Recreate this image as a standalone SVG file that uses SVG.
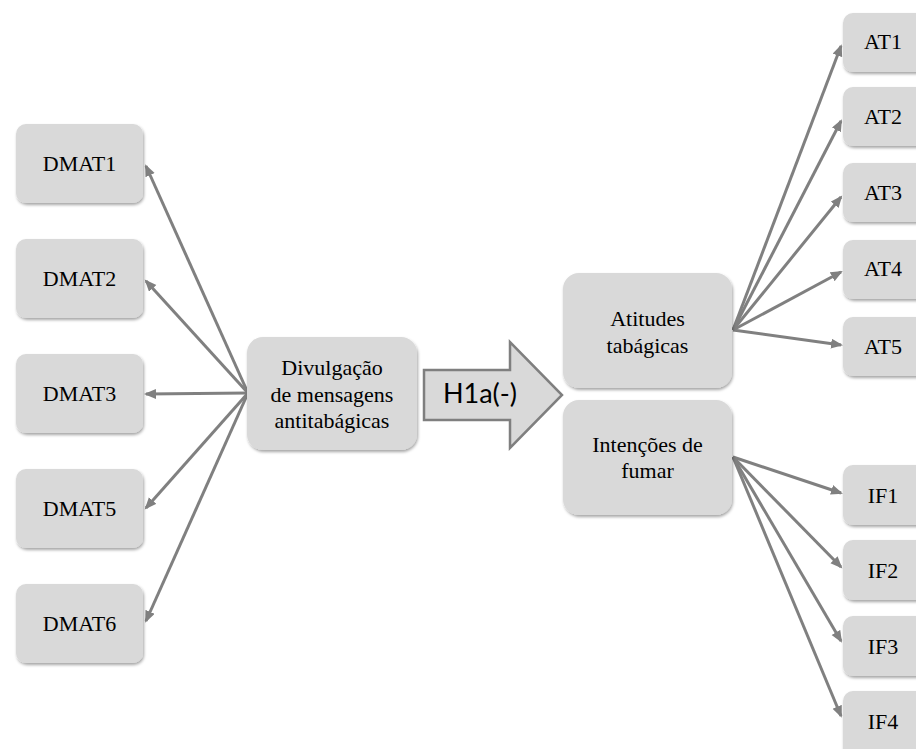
<svg xmlns="http://www.w3.org/2000/svg" width="916" height="749" viewBox="0 0 916 749">
  <defs>
    <filter id="shadow" x="-10%" y="-10%" width="125%" height="130%">
      <feDropShadow dx="1" dy="2" stdDeviation="1.6" flood-color="#000" flood-opacity="0.35"/>
    </filter>
    <marker id="head" markerUnits="userSpaceOnUse" markerWidth="13" markerHeight="11" refX="10" refY="5" orient="auto">
      <path d="M0,0 L12,5 L0,10 Z" fill="#808080"/>
    </marker>
    <style>
      .box { fill: #d9d9d9; filter: url(#shadow); }
      .lbl { font-size: 22px; fill: #000; text-anchor: middle; }
      .link { stroke: #808080; stroke-width: 3; fill: none; marker-end: url(#head); }
    </style>
  </defs>
  <rect width="916" height="749" fill="#fff"/>

  <!-- connectors -->
  <g id="connectors">
    <path class="link" d="M248,393 L146,166"/>
    <path class="link" d="M248,393 L146,281"/>
    <path class="link" d="M248,393 L146,394"/>
    <path class="link" d="M248,393 L146,508"/>
    <path class="link" d="M248,393 L146,621"/>

    <path class="link" d="M733,330 L841,46"/>
    <path class="link" d="M733,330 L841,121"/>
    <path class="link" d="M733,330 L841,197"/>
    <path class="link" d="M733,330 L841,272"/>
    <path class="link" d="M733,330 L841,345"/>

    <path class="link" d="M733,457 L841,493"/>
    <path class="link" d="M733,457 L841,567"/>
    <path class="link" d="M733,457 L841,641"/>
    <path class="link" d="M733,457 L841,716"/>
  </g>

  <!-- hypothesis arrow -->
  <g id="h1a">
    <polygon points="424,370 510,370 510,342 562,395 510,448 510,420 424,420" fill="#d9d9d9" stroke="#7f7f7f" stroke-width="2.5" stroke-linejoin="miter"/>
    <text x="480" y="403" font-family="Lato, 'Open Sans', sans-serif" font-size="27" text-anchor="middle" fill="#000">H1a(-)</text>
  </g>

  <!-- all box labels share one serif face -->
  <g font-family="'Liberation Serif', 'DejaVu Serif', serif">
    <!-- indicators on the left -->
    <g id="dmat1"><rect class="box" x="16" y="124" width="127" height="79" rx="10"/><text class="lbl" x="79.5" y="171">DMAT1</text></g>
    <g id="dmat2"><rect class="box" x="16" y="239" width="127" height="79" rx="10"/><text class="lbl" x="79.5" y="286">DMAT2</text></g>
    <g id="dmat3"><rect class="box" x="16" y="354" width="127" height="79" rx="10"/><text class="lbl" x="79.5" y="401">DMAT3</text></g>
    <g id="dmat5"><rect class="box" x="16" y="469" width="127" height="79" rx="10"/><text class="lbl" x="79.5" y="516">DMAT5</text></g>
    <g id="dmat6"><rect class="box" x="16" y="584" width="127" height="79" rx="10"/><text class="lbl" x="79.5" y="631">DMAT6</text></g>

    <!-- constructs -->
    <g id="divulgacao">
      <rect class="box" x="247" y="337" width="170" height="113" rx="16"/>
      <text class="lbl" x="332" y="375">Divulgação</text>
      <text class="lbl" x="332" y="402">de mensagens</text>
      <text class="lbl" x="332" y="428">antitabágicas</text>
    </g>
    <g id="atitudes">
      <rect class="box" x="563" y="273" width="169" height="115" rx="16"/>
      <text class="lbl" x="647.5" y="326">Atitudes</text>
      <text class="lbl" x="647.5" y="353">tabágicas</text>
    </g>
    <g id="intencoes">
      <rect class="box" x="563" y="400" width="169" height="115" rx="16"/>
      <text class="lbl" x="647.5" y="452">Intenções de</text>
      <text class="lbl" x="647.5" y="478">fumar</text>
    </g>

    <!-- indicators on the right -->
    <g id="at1"><rect class="box" x="843" y="13" width="100" height="59" rx="10"/><text class="lbl" x="883" y="49">AT1</text></g>
    <g id="at2"><rect class="box" x="843" y="87" width="100" height="59" rx="10"/><text class="lbl" x="883" y="124">AT2</text></g>
    <g id="at3"><rect class="box" x="843" y="163" width="100" height="59" rx="10"/><text class="lbl" x="883" y="200">AT3</text></g>
    <g id="at4"><rect class="box" x="843" y="240" width="100" height="59" rx="10"/><text class="lbl" x="883" y="276">AT4</text></g>
    <g id="at5"><rect class="box" x="843" y="317" width="100" height="59" rx="10"/><text class="lbl" x="883" y="354">AT5</text></g>

    <g id="if1"><rect class="box" x="843" y="465" width="100" height="60" rx="10"/><text class="lbl" x="883" y="503">IF1</text></g>
    <g id="if2"><rect class="box" x="843" y="540" width="100" height="60" rx="10"/><text class="lbl" x="883" y="578">IF2</text></g>
    <g id="if3"><rect class="box" x="843" y="616" width="100" height="60" rx="10"/><text class="lbl" x="883" y="654">IF3</text></g>
    <g id="if4"><rect class="box" x="843" y="691" width="100" height="70" rx="10"/><text class="lbl" x="883" y="729">IF4</text></g>
  </g>
</svg>
